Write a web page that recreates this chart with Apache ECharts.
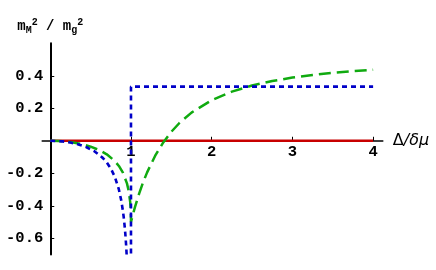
<!DOCTYPE html>
<html>
<head>
<meta charset="utf-8">
<script src="https://cdn.jsdelivr.net/npm/echarts@6/dist/echarts.min.js"></script>
<style>html,body{margin:0;padding:0;background:#fff}#c{width:436px;height:270px}</style>
</head>
<body>
<div id="c"></div>
<script>
// x = Δ/δμ, y = m_M^2/m_g^2
var xTicks = [1, 2, 3, 4];
var yTicks = [-0.6, -0.4, -0.2, 0.2, 0.4];

var redLine = [[0, 0], [4, 0]];

var greenLine = [
  [0, 0], [0.1, -0.0013], [0.2, -0.0051], [0.3, -0.0118], [0.4, -0.0218],
  [0.5, -0.0359], [0.6, -0.0556], [0.7, -0.0834], [0.8, -0.125], [0.85, -0.155],
  [0.9, -0.1964], [0.95, -0.2621], [0.97, -0.3044], [0.99, -0.3764], [0.995, -0.4092],
  [0.999, -0.457], [1.0, -0.5], [1.02, -0.4612], [1.05, -0.407], [1.1, -0.3264],
  [1.15, -0.2561], [1.2, -0.1944], [1.3, -0.0917], [1.4, -0.0102], [1.5, 0.0556],
  [1.6, 0.1094], [1.75, 0.1735], [2.0, 0.25], [2.25, 0.3025], [2.5, 0.34],
  [2.75, 0.3678], [3.0, 0.3889], [3.25, 0.4053], [3.5, 0.4184], [3.75, 0.4289],
  [4.0, 0.4375]
];

var blueLeft = [
  [0, 0], [0.15, -0.0038], [0.25, -0.0109], [0.35, -0.0225], [0.45, -0.0399],
  [0.55, -0.0658], [0.65, -0.1053], [0.7, -0.1334], [0.75, -0.1706], [0.8, -0.2222],
  [0.85, -0.2994], [0.88, -0.3685], [0.9, -0.4314], [0.91, -0.4706], [0.92, -0.5172],
  [0.93, -0.5735], [0.94, -0.6437], [0.95, -0.7342]
];
var blueRight = [[1, -0.75], [1, 0.3333], [4, 0.3333]];

var xMin = -0.1, xMax = 4.12, yMin = -0.7, yMax = 0.6;
var gridL = 42.2, gridR = 53.2, gridT = 43.3, gridB = 15.5;
var gridW = 436 - gridL - gridR, gridH = 270 - gridT - gridB;
// shift axes so they sit on the origin (x = 0, y = 0)
var yAxisOffset = -(0 - xMin) / (xMax - xMin) * gridW;
var xAxisOffset = -(0 - yMin) / (yMax - yMin) * gridH;

var tickFont = {fontFamily: 'Liberation Mono', fontWeight: 'bold', fontSize: 15.5, color: '#000'};

var chart = echarts.init(document.getElementById('c'), null, {renderer: 'canvas'});
chart.setOption({
  animation: false,
  backgroundColor: '#fff',
  grid: {left: gridL, right: gridR, top: gridT, bottom: gridB, containLabel: false, outerBoundsMode: 'none'},
  xAxis: {
    type: 'value', min: xMin, max: xMax, position: 'bottom', offset: xAxisOffset,
    axisLine: {onZero: false, lineStyle: {color: '#000', width: 1.5}},
    axisTick: {show: true, inside: true, length: 4, customValues: xTicks, lineStyle: {color: '#000', width: 1}},
    axisLabel: Object.assign({customValues: xTicks, margin: 3}, tickFont),
    splitLine: {show: false},
    name: '{a|Δ}{i|/δμ}', nameLocation: 'end', nameGap: 10,
    nameTextStyle: {rich: {
      a: {fontFamily: 'DejaVu Sans', fontSize: 16, color: '#000'},
      i: {fontFamily: 'DejaVu Sans', fontStyle: 'italic', fontSize: 16, color: '#000'}
    }}
  },
  yAxis: {
    type: 'value', min: yMin, max: yMax, position: 'left', offset: yAxisOffset,
    axisLine: {onZero: false, lineStyle: {color: '#000', width: 2}},
    axisTick: {show: true, inside: true, length: 4, customValues: yTicks, lineStyle: {color: '#000', width: 1}},
    axisLabel: Object.assign({customValues: yTicks, margin: 7}, tickFont),
    splitLine: {show: false},
    name: '{m|m}{sub|M}{sup|2}{m| / m}{sub|g}{sup|2}', nameLocation: 'end', nameGap: 8,
    nameTextStyle: {rich: {
      m: {fontFamily: 'Liberation Mono', fontWeight: 'bold', fontSize: 14, lineHeight: 18, verticalAlign: 'middle', color: '#000'},
      sub: {fontFamily: 'Liberation Mono', fontWeight: 'bold', fontSize: 10, lineHeight: 10, verticalAlign: 'bottom', color: '#000'},
      sup: {fontFamily: 'Liberation Mono', fontWeight: 'bold', fontSize: 10, lineHeight: 10, verticalAlign: 'top', color: '#000'}
    }}
  },
  series: [
    {type: 'line', data: redLine, showSymbol: false, symbol: 'none', clip: true,
     lineStyle: {color: '#c80000', width: 2.5}},
    {type: 'line', data: greenLine, showSymbol: false, symbol: 'none', clip: true,
     lineStyle: {color: '#10aa10', width: 2.5, type: [12, 6]}},
    {type: 'line', data: blueLeft, showSymbol: false, symbol: 'none', clip: true,
     lineStyle: {color: '#0000c8', width: 2.6, type: [5, 4]}},
    {type: 'line', data: blueRight, showSymbol: false, symbol: 'none', clip: true,
     lineStyle: {color: '#0000c8', width: 2.6, type: [5, 4]}}
  ]
});
</script>
</body>
</html>
